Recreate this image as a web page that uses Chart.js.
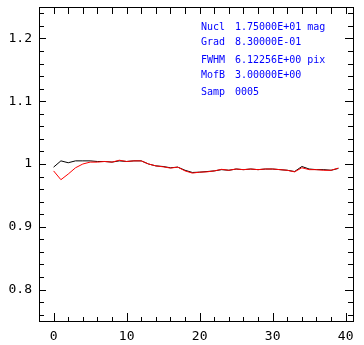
<!DOCTYPE html>
<html lang="en">
<head>
  <meta charset="UTF-8" />
  <title>Profile ratio</title>
  <script src="https://cdn.jsdelivr.net/npm/chart.js"></script>
  <style>
    body { margin: 0; background: #fff; }
    canvas { display: block; }
  </style>
</head>
<body>
  <canvas id="ratioChart" width="364" height="345"></canvas>

  <script>
    // sample index along the profile
    const samples = [0, 1, 2, 3, 4, 5, 6, 7, 8, 9, 10, 11, 12, 13, 14, 15, 16, 17, 18, 19,
                     20, 21, 22, 23, 24, 25, 26, 27, 28, 29, 30, 31, 32, 33, 34, 35, 36, 37, 38, 39];
    const blackSeries = [0.995, 1.005, 1.002, 1.005, 1.005, 1.005, 1.004, 1.004, 1.003, 1.005,
                         1.004, 1.005, 1.005, 1.000, 0.997, 0.996, 0.994, 0.995, 0.990, 0.9865,
                         0.987, 0.988, 0.989, 0.991, 0.990, 0.992, 0.991, 0.992, 0.991, 0.992,
                         0.992, 0.991, 0.990, 0.988, 0.996, 0.992, 0.991, 0.991, 0.990, 0.993];
    const redSeries = [0.989, 0.975, 0.984, 0.994, 1.000, 1.003, 1.003, 1.004, 1.003, 1.006,
                       1.004, 1.005, 1.005, 1.000, 0.997, 0.9955, 0.9935, 0.995, 0.989, 0.9855,
                       0.987, 0.9875, 0.989, 0.9915, 0.990, 0.992, 0.991, 0.992, 0.991, 0.992,
                       0.992, 0.991, 0.990, 0.9875, 0.994, 0.991, 0.991, 0.990, 0.990, 0.9935];
    const xTicks = [0, 10, 20, 30, 40];
    const yTicks = [0.8, 0.9, 1, 1.1, 1.2];
    const infoLabels = ['Nucl', 'Grad', 'FWHM', 'MofB', 'Samp'];
    const infoValues = ['1.75000E+01 mag', '8.30000E-01', '6.12256E+00 pix', '3.00000E+00', '0005'];

    const tickFont = { family: 'DejaVu Sans Mono', size: 13 };

    // frame with inward ticks on all four sides, plus the blue info block
    const framePlugin = {
      id: 'frame',
      afterDraw(chart) {
        const { ctx, chartArea: a, scales: { x, y } } = chart;
        ctx.save();
        ctx.strokeStyle = '#000';
        ctx.lineWidth = 1;
        ctx.strokeRect(a.left + 0.5, a.top + 0.5, a.right - a.left, a.bottom - a.top);

        ctx.beginPath();
        for (let v = -2; v <= 41; v += 2) {
          const px = Math.round(x.getPixelForValue(v)) + 0.5;
          const major = v % 10 === 0;
          ctx.moveTo(px, a.bottom);
          ctx.lineTo(px, a.bottom - (major ? 8 : 4));
          ctx.moveTo(px, a.top);
          ctx.lineTo(px, a.top + 7);
        }
        for (let i = 38; i <= 62; i++) {
          const v = i / 50;
          const py = Math.round(y.getPixelForValue(v)) + 0.5;
          const major = i % 5 === 0;
          ctx.moveTo(a.left, py);
          ctx.lineTo(a.left + (major ? 7 : 5), py);
          ctx.moveTo(a.right, py);
          ctx.lineTo(a.right - (major ? 8 : 5), py);
        }
        ctx.stroke();

        ctx.fillStyle = '#0000ff';
        ctx.font = '10px "DejaVu Sans Mono"';
        ctx.textBaseline = 'middle';
        const rows = [27, 42, 60, 75, 92];
        infoLabels.forEach((lbl, i) => {
          ctx.fillText(lbl, 201, rows[i]);
          ctx.fillText(infoValues[i], 235, rows[i]);
        });
        ctx.restore();
      }
    };

    new Chart(document.getElementById('ratioChart'), {
      type: 'line',
      data: {
        labels: samples,
        datasets: [
          { data: samples.map((s, i) => ({ x: s, y: redSeries[i] })), borderColor: '#ff0000', borderWidth: 1, pointRadius: 0, tension: 0 },
          { data: samples.map((s, i) => ({ x: s, y: blackSeries[i] })), borderColor: '#000000', borderWidth: 1, pointRadius: 0, tension: 0 }
        ]
      },
      options: {
        responsive: false,
        animation: false,
        layout: { padding: { top: 7, right: 11, left: 0, bottom: 0 } },
        plugins: { legend: { display: false }, tooltip: { enabled: false } },
        scales: {
          x: {
            type: 'linear', min: -2, max: 41,
            grid: { display: false, drawTicks: false },
            border: { display: false },
            afterBuildTicks: s => { s.ticks = xTicks.map(v => ({ value: v })); },
            afterFit: s => { s.height = 24; s.paddingLeft = 0; s.paddingRight = 0; },
            ticks: { autoSkip: false, maxRotation: 0, padding: 8, color: '#000', font: tickFont, callback: v => String(v) }
          },
          y: {
            min: 0.75, max: 1.25,
            grid: { display: false, drawTicks: false },
            border: { display: false },
            afterBuildTicks: s => { s.ticks = yTicks.map(v => ({ value: v })); },
            afterFit: s => { s.width = 39; s.paddingTop = 0; s.paddingBottom = 0; },
            ticks: { autoSkip: false, padding: 7, color: '#000', font: tickFont, callback: v => String(v) }
          }
        }
      },
      plugins: [framePlugin]
    });
  </script>
</body>
</html>
